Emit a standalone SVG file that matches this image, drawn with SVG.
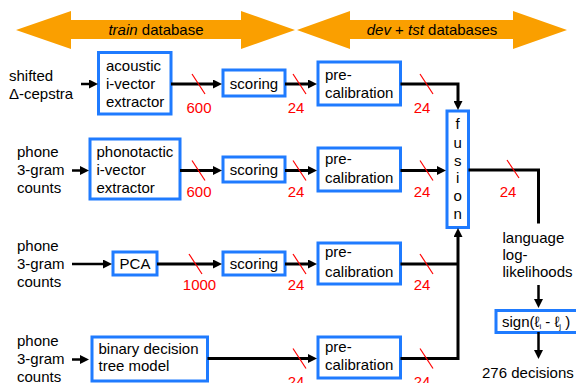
<svg xmlns="http://www.w3.org/2000/svg" width="576" height="383" viewBox="0 0 576 383">
  <style>
    text { font-family: "Liberation Sans", Arial, sans-serif; font-size: 15px; fill: #000; }
    .box { fill: #fff; stroke: #1f7bff; stroke-width: 3; }
    .band { fill: #fa9f00; }
    .wire { fill: none; stroke: #000; stroke-width: 3; }
    .tick { stroke: #ff0000; stroke-width: 1.2; }
    .dim { fill: #ff0000; text-anchor: middle; }
    .mid { text-anchor: middle; }
  </style>
  <defs>
    <marker id="head" markerUnits="userSpaceOnUse" markerWidth="9" markerHeight="9" refX="2" refY="4.5" orient="auto">
      <path d="M0,0 L9,4.5 L0,9 z" fill="#000"/>
    </marker>
  </defs>

  <!-- database bands -->
  <g id="band-train">
    <polygon class="band" points="16,30 71,11 71,20 241,20 241,11 295,30 241,49 241,39 71,39 71,49"/>
    <text x="156" y="35" class="mid"><tspan font-style="italic">train</tspan> database</text>
  </g>
  <g id="band-devtst">
    <polygon class="band" points="297,30 350,11 350,20 513,20 513,11 567,30 513,49 513,39 350,39 350,49"/>
    <text x="432" y="35" class="mid"><tspan font-style="italic">dev</tspan> + <tspan font-style="italic">tst</tspan> databases</text>
  </g>

  <!-- input labels -->
  <g id="in1"><text x="9" y="81">shifted</text><text x="9" y="99">Δ-cepstra</text></g>
  <g id="in2"><text x="17" y="157">phone</text><text x="17" y="175">3-gram</text><text x="17" y="193">counts</text></g>
  <g id="in3"><text x="17" y="251">phone</text><text x="17" y="269">3-gram</text><text x="17" y="287">counts</text></g>
  <g id="in4"><text x="17" y="346">phone</text><text x="17" y="364">3-gram</text><text x="17" y="382">counts</text></g>

  <!-- row 1 -->
  <g id="acoustic">
    <rect class="box" x="98.5" y="52.5" width="72.5" height="61.5"/>
    <text x="106" y="71">acoustic</text><text x="106" y="89">i-vector</text><text x="106" y="107">extractor</text>
  </g>
  <g id="scoring1">
    <rect class="box" x="223" y="70" width="62" height="26"/>
    <text x="254" y="89" class="mid">scoring</text>
  </g>
  <g id="precal1">
    <rect class="box" x="318" y="62" width="82.5" height="43"/>
    <text x="325" y="80">pre-</text><text x="325" y="98">calibration</text>
  </g>

  <!-- row 2 -->
  <g id="phonotactic">
    <rect class="box" x="90" y="139" width="90" height="60"/>
    <text x="96.5" y="157">phonotactic</text><text x="96.5" y="175">i-vector</text><text x="96.5" y="193">extractor</text>
  </g>
  <g id="scoring2">
    <rect class="box" x="223" y="157" width="62" height="25"/>
    <text x="254" y="175" class="mid">scoring</text>
  </g>
  <g id="precal2">
    <rect class="box" x="318" y="148" width="82.5" height="43"/>
    <text x="325" y="164">pre-</text><text x="325" y="183">calibration</text>
  </g>

  <!-- row 3 -->
  <g id="pca">
    <rect class="box" x="113" y="252" width="44" height="23"/>
    <text x="135" y="269" class="mid">PCA</text>
  </g>
  <g id="scoring3">
    <rect class="box" x="223" y="252" width="62" height="23"/>
    <text x="254" y="269" class="mid">scoring</text>
  </g>
  <g id="precal3">
    <rect class="box" x="318" y="243" width="82.5" height="41"/>
    <text x="325" y="257">pre-</text><text x="325" y="277">calibration</text>
  </g>

  <!-- row 4 -->
  <g id="bdt">
    <rect class="box" x="92" y="337" width="115.5" height="44"/>
    <text x="98.5" y="354">binary decision</text><text x="98.5" y="371">tree model</text>
  </g>
  <g id="precal4">
    <rect class="box" x="318" y="337" width="82.5" height="41"/>
    <text x="325" y="352">pre-</text><text x="325" y="370">calibration</text>
  </g>

  <!-- fusion and back end -->
  <g id="fusion">
    <rect class="box" x="447" y="111" width="21.5" height="116.5"/>
    <text x="457.7" y="129" class="mid">f</text>
    <text x="457.7" y="147.5" class="mid">u</text>
    <text x="457.7" y="165.5" class="mid">s</text>
    <text x="457.7" y="183" class="mid">i</text>
    <text x="457.7" y="201" class="mid">o</text>
    <text x="457.7" y="219" class="mid">n</text>
  </g>
  <g id="llk">
    <text x="502.5" y="243">language</text><text x="502.5" y="260">log-</text><text x="502.5" y="277">likelihoods</text>
  </g>
  <g id="sign">
    <rect class="box" x="496" y="310.5" width="82" height="22"/>
    <text x="502" y="327">sign(ℓ<tspan font-size="8" dy="2">i</tspan><tspan dy="-2"> - ℓ</tspan><tspan font-size="8" dy="2">j</tspan><tspan dy="-2"> )</tspan></text>
  </g>
  <g id="decisions">
    <text x="482" y="378">276 decisions</text>
  </g>

  <!-- connectors -->
  <g id="connectors">
    <g class="wire">
      <line x1="81" y1="84" x2="91" y2="84" stroke-width="2.5" marker-end="url(#head)"/>
      <line x1="171" y1="84" x2="215" y2="84" marker-end="url(#head)"/>
      <line x1="285" y1="84" x2="310" y2="84" marker-end="url(#head)"/>
      <polyline points="400.5,84 458,84 458,103" marker-end="url(#head)"/>

      <line x1="72" y1="170.5" x2="82" y2="170.5" stroke-width="2.5" marker-end="url(#head)"/>
      <line x1="180" y1="170.5" x2="215" y2="170.5" marker-end="url(#head)"/>
      <line x1="285" y1="170.5" x2="310" y2="170.5" marker-end="url(#head)"/>
      <line x1="400.5" y1="170.5" x2="439" y2="170.5" marker-end="url(#head)"/>
      <polyline points="468.5,170 538.5,170 538.5,223.5"/>

      <line x1="72" y1="264" x2="105" y2="264" stroke-width="2.5" marker-end="url(#head)"/>
      <line x1="157" y1="264" x2="215" y2="264" marker-end="url(#head)"/>
      <line x1="285" y1="264" x2="310" y2="264" marker-end="url(#head)"/>
      <line x1="400.5" y1="264" x2="458" y2="264"/>

      <line x1="72" y1="359.5" x2="82" y2="359.5" stroke-width="2.5" marker-end="url(#head)"/>
      <line x1="207.5" y1="358.5" x2="310" y2="358.5" marker-end="url(#head)"/>
      <polyline points="400.5,358.5 458,358.5 458,235" marker-end="url(#head)"/>

      <line x1="538.5" y1="285" x2="538.5" y2="301" stroke-width="2.5" marker-end="url(#head)"/>
      <line x1="538.5" y1="332" x2="538.5" y2="352" stroke-width="2.5" marker-end="url(#head)"/>
    </g>

    <!-- bus width ticks -->
    <g class="tick">
      <line x1="192" y1="74" x2="205" y2="94"/>
      <line x1="293" y1="74" x2="306" y2="94"/>
      <line x1="420" y1="74" x2="433" y2="94"/>
      <line x1="192" y1="160.5" x2="205" y2="180.5"/>
      <line x1="293" y1="160.5" x2="306" y2="180.5"/>
      <line x1="420" y1="160.5" x2="433" y2="180.5"/>
      <line x1="507" y1="160" x2="519" y2="178"/>
      <line x1="189" y1="254" x2="202" y2="274"/>
      <line x1="293" y1="254" x2="306" y2="274"/>
      <line x1="420" y1="254" x2="433" y2="274"/>
      <line x1="293" y1="348.5" x2="306" y2="368.5"/>
      <line x1="420" y1="348.5" x2="433" y2="368.5"/>
    </g>
    <g>
      <text class="dim" x="199" y="113">600</text>
      <text class="dim" x="296" y="113">24</text>
      <text class="dim" x="422" y="113">24</text>
      <text class="dim" x="199" y="197">600</text>
      <text class="dim" x="296" y="197">24</text>
      <text class="dim" x="422" y="197">24</text>
      <text class="dim" x="508" y="197">24</text>
      <text class="dim" x="199.5" y="290">1000</text>
      <text class="dim" x="296" y="290">24</text>
      <text class="dim" x="422" y="290">24</text>
      <text class="dim" x="296" y="387">24</text>
      <text class="dim" x="422" y="387">24</text>
    </g>
  </g>
</svg>
